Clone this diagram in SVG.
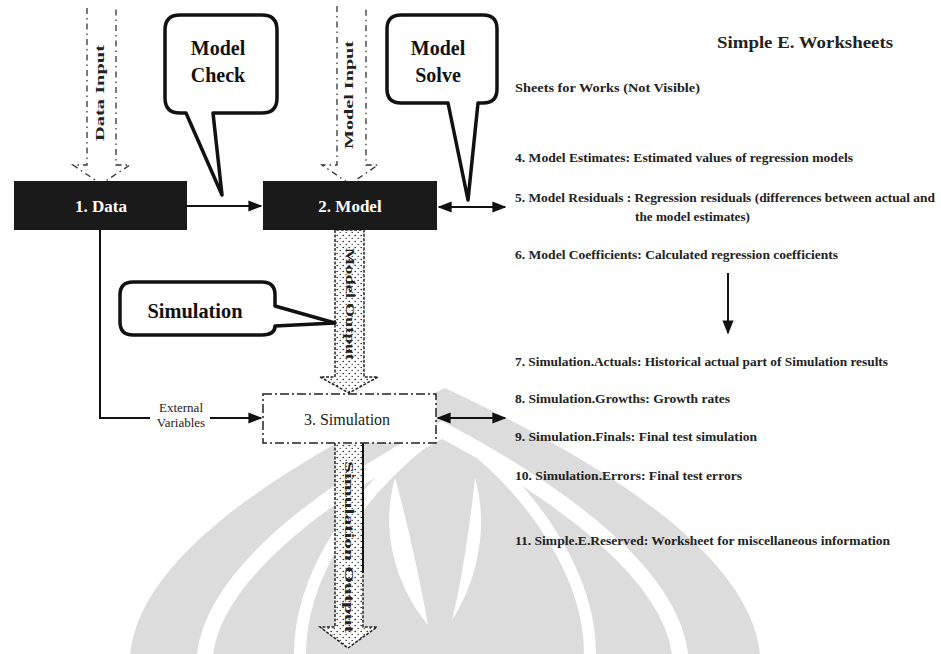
<svg xmlns="http://www.w3.org/2000/svg" width="941" height="654" viewBox="0 0 941 654">
  <defs>
    <style>
      .bg { fill: #ffffff; }
      .mark { fill: #dcdcdc; }
      .gap { fill: none; stroke: #ffffff; stroke-linecap: round; }
      .bubble { fill: #ffffff; stroke: #111; stroke-width: 3.5; stroke-linejoin: round; }
      .bubble-text { font-family: "Liberation Serif", serif; font-weight: bold; font-size: 20px; fill: #111; text-anchor: middle; }
      .block { fill: #1a1a1a; }
      .block-text { font-family: "Liberation Serif", serif; font-weight: bold; font-size: 17px; fill: #fff; text-anchor: middle; }
      .dashbox { fill: #fff; stroke: #222; stroke-width: 1.5; stroke-dasharray: 9 3 2 3; }
      .sim-text { font-family: "Liberation Serif", serif; font-size: 16px; fill: #222; text-anchor: middle; }
      .input-arrow { fill: none; stroke: #333; stroke-width: 1.3; stroke-dasharray: 6 4 1.5 4; }
      .flow-arrow { fill: url(#stipple); stroke: #222; stroke-width: 1.5; stroke-dasharray: 3 1.5; }
      .vtext { font-family: "Liberation Serif", serif; font-weight: bold; font-size: 13px; fill: #222; text-anchor: middle; }
      .line { fill: none; stroke: #111; stroke-width: 2; }
      .small { font-family: "Liberation Serif", serif; font-size: 13px; fill: #222; text-anchor: middle; }
      .title { font-family: "Liberation Serif", serif; font-weight: bold; font-size: 16px; fill: #222; }
      .item { font-family: "Liberation Serif", serif; font-weight: bold; font-size: 12.5px; fill: #222; }
    </style>
    <pattern id="stipple" width="6" height="6" patternUnits="userSpaceOnUse">
      <rect width="6" height="6" fill="#fff"/>
      <circle cx="1.2" cy="1.5" r="0.8" fill="#222"/>
      <circle cx="4.2" cy="4.4" r="0.7" fill="#222"/>
    </pattern>
    <marker id="head" viewBox="0 0 10 10" refX="9" refY="5" markerWidth="7" markerHeight="7" orient="auto-start-reverse">
      <path d="M0,1 L10,5 L0,9 Z" fill="#111"/>
    </marker>
  </defs>

  <rect class="bg" x="0" y="0" width="941" height="654"/>

  <!-- faint emblem in the background -->
  <g id="emblem">
    <path class="mark" d="M130,654 C140,560 270,470 445,388 C620,470 750,560 760,654 Z"/>
    <path class="gap" stroke-width="16" d="M205,654 C215,575 320,495 442,430 C565,495 670,575 680,654"/>
    <path class="gap" stroke-width="12" d="M300,654 C300,580 350,500 425,440 M590,654 C590,580 540,500 465,440"/>
    <path fill="#ffffff" d="M395,478 C380,530 395,585 428,625 C420,580 408,525 395,478 Z"/>
    <path fill="#ffffff" d="M475,478 C490,530 475,585 452,620 C462,580 470,525 475,478 Z"/>
  </g>

  <!-- input arrows -->
  <g id="data-input">
    <path class="input-arrow" d="M87,8 V165 H73 L101,184 L130,165 H116 V8"/>
    <text class="vtext" transform="translate(104,93) rotate(-90)" textLength="96" lengthAdjust="spacingAndGlyphs">Data Input</text>
  </g>
  <g id="model-input">
    <path class="input-arrow" d="M337,6 V165 H322 L350,184 L378,165 H366 V6"/>
    <text class="vtext" transform="translate(353,95) rotate(-90)" textLength="108" lengthAdjust="spacingAndGlyphs">Model Input</text>
  </g>

  <!-- callouts -->
  <g id="model-check">
    <path class="bubble" d="M180,15 H262 Q277,15 277,30 V98 Q277,113 262,113 H213 L222,195 L186,113 H180 Q165,113 165,98 V30 Q165,15 180,15 Z"/>
    <text class="bubble-text" x="218" y="55">Model</text>
    <text class="bubble-text" x="218" y="82">Check</text>
  </g>
  <g id="model-solve">
    <path class="bubble" d="M401,15 H483 Q497,15 497,29 V89 Q497,103 483,103 H478 L468,200 L448,103 H401 Q387,103 387,89 V29 Q387,15 401,15 Z"/>
    <text class="bubble-text" x="438" y="55">Model</text>
    <text class="bubble-text" x="438" y="82">Solve</text>
  </g>

  <!-- flow arrows -->
  <g id="model-output">
    <path class="flow-arrow" d="M335,230 V377 H320 L349,393 L378,377 H364 V230 Z"/>
    <text class="vtext" transform="translate(346,304) rotate(90)" textLength="112" lengthAdjust="spacingAndGlyphs">Model Output</text>
  </g>
  <g id="simulation-output">
    <path class="flow-arrow" d="M335,443 V627 H320 L348,648 L377,627 H363 V443"/>
    <path class="line" stroke-width="1.5" d="M363,443 V573"/>
    <text class="vtext" transform="translate(345,547) rotate(90)" textLength="172" lengthAdjust="spacingAndGlyphs">Simulation Output</text>
  </g>

  <!-- process blocks -->
  <g id="data">
    <rect class="block" x="14" y="181" width="173" height="49"/>
    <text class="block-text" x="101" y="212">1. Data</text>
  </g>
  <g id="model">
    <rect class="block" x="263" y="181" width="174" height="49"/>
    <text class="block-text" x="350" y="212">2. Model</text>
  </g>
  <g id="simulation-callout">
    <path class="bubble" d="M133,282 H262 Q275,282 275,295 V306 L335,323 L275,326 Q275,335 262,335 H133 Q120,335 120,322 V295 Q120,282 133,282 Z"/>
    <text class="bubble-text" x="195" y="318" font-size="19" textLength="95" lengthAdjust="spacingAndGlyphs">Simulation</text>
  </g>
  <g id="simulation">
    <rect class="dashbox" x="263" y="394" width="173" height="49"/>
    <text class="sim-text" x="347" y="425">3. Simulation</text>
  </g>

  <!-- connectors -->
  <g id="connectors">
    <path class="line" d="M187,206 H261" marker-end="url(#head)"/>
    <path class="line" d="M439,207 H505" marker-start="url(#head)" marker-end="url(#head)"/>
    <path class="line" d="M438,418 H505" marker-start="url(#head)" marker-end="url(#head)"/>
    <path class="line" d="M100,230 V418 H150"/>
    <path class="line" d="M210,418 H261" marker-end="url(#head)"/>
    <path class="line" d="M728,273 V333" marker-end="url(#head)"/>
    <text class="small" x="181" y="412">External</text>
    <text class="small" x="181" y="427">Variables</text>
  </g>

  <!-- worksheet list -->
  <g id="worksheets">
    <text class="title" x="717" y="48" textLength="176" lengthAdjust="spacingAndGlyphs">Simple E. Worksheets</text>
    <text class="item" x="515" y="92" textLength="185" lengthAdjust="spacingAndGlyphs">Sheets for Works (Not Visible)</text>
    <text class="item" x="515" y="162" textLength="338" lengthAdjust="spacingAndGlyphs">4. Model Estimates:  Estimated values of regression models</text>
    <text class="item" x="515" y="202" textLength="420" lengthAdjust="spacingAndGlyphs">5. Model Residuals : Regression residuals (differences between actual and</text>
    <text class="item" x="635" y="221" textLength="115" lengthAdjust="spacingAndGlyphs">the model estimates)</text>
    <text class="item" x="515" y="259" textLength="323" lengthAdjust="spacingAndGlyphs">6. Model Coefficients:  Calculated regression coefficients</text>
    <text class="item" x="515" y="366" textLength="373" lengthAdjust="spacingAndGlyphs">7. Simulation.Actuals:  Historical actual part of Simulation results</text>
    <text class="item" x="515" y="403" textLength="215" lengthAdjust="spacingAndGlyphs">8. Simulation.Growths:  Growth rates</text>
    <text class="item" x="515" y="441" textLength="242" lengthAdjust="spacingAndGlyphs">9. Simulation.Finals:  Final test simulation</text>
    <text class="item" x="515" y="480" textLength="227" lengthAdjust="spacingAndGlyphs">10. Simulation.Errors:  Final test errors</text>
    <text class="item" x="515" y="545" textLength="375" lengthAdjust="spacingAndGlyphs">11. Simple.E.Reserved:  Worksheet for miscellaneous information</text>
  </g>
</svg>
